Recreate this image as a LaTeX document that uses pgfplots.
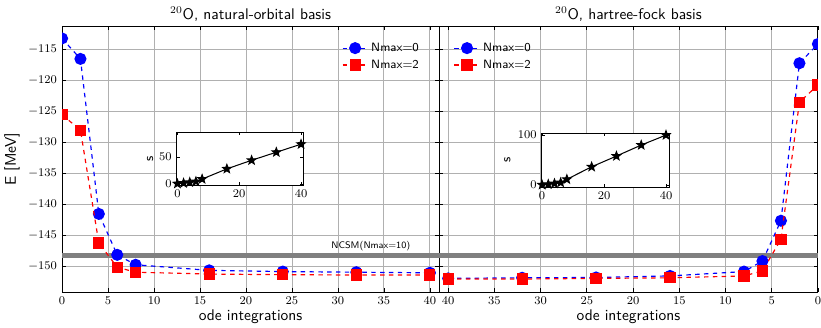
\documentclass[border=0pt]{standalone}
\usepackage{pgfplots}
\pgfplotsset{compat=1.18}
\definecolor{gridc}{RGB}{176,176,176}
\definecolor{ncsm}{RGB}{128,128,128}
\pgfdeclareplotmark{fstar}{%
  \pgfpathmoveto{\pgfpointpolar{90}{\pgfplotmarksize}}%
  \pgfpathlineto{\pgfpointpolar{126}{0.42\pgfplotmarksize}}%
  \pgfpathlineto{\pgfpointpolar{162}{\pgfplotmarksize}}%
  \pgfpathlineto{\pgfpointpolar{198}{0.42\pgfplotmarksize}}%
  \pgfpathlineto{\pgfpointpolar{234}{\pgfplotmarksize}}%
  \pgfpathlineto{\pgfpointpolar{270}{0.42\pgfplotmarksize}}%
  \pgfpathlineto{\pgfpointpolar{306}{\pgfplotmarksize}}%
  \pgfpathlineto{\pgfpointpolar{342}{0.42\pgfplotmarksize}}%
  \pgfpathlineto{\pgfpointpolar{18}{\pgfplotmarksize}}%
  \pgfpathlineto{\pgfpointpolar{54}{0.42\pgfplotmarksize}}%
  \pgfpathclose
  \pgfusepathqfillstroke}
\pgfplotsset{
  mainax/.style={
    scale only axis, anchor=south west, height=180.9pt,
    xmin=0, xmax=41, ymin=-154.2, ymax=-111.3,
    xtick={0,5,...,40}, ytick={-150,-145,...,-115},
    grid=major, major grid style={gridc, line width=0.6pt},
    tick style={black, line width=0.5pt}, major tick length=3pt,
    axis line style={line width=0.6pt},
    tick label style={font=\fontsize{8.5}{10}\selectfont},
    label style={font=\sffamily\fontsize{10.5}{12}\selectfont},
    x label style={at={(axis description cs:0.5,-0.091)}, anchor=center},
    clip marker paths=true,
    legend cell align=left,
    legend style={draw=none, fill=none, anchor=north west, row sep=0.3pt,
      font=\sffamily\fontsize{8.2}{10}\selectfont},
  },
  s0/.style={blue, dashed, line width=0.8pt, mark=*, mark size=3.7pt, mark options={solid}},
  s2/.style={red, dashed, line width=0.8pt, mark=square*, mark size=3.4pt, mark options={solid}},
  insetax/.style={
    scale only axis, anchor=south west,
    axis background/.style={fill=white},
    xtick={0,20,40},
    tick style={black, line width=0.5pt}, major tick length=2pt,
    axis line style={line width=0.6pt},
    tick label style={font=\fontsize{8.5}{10}\selectfont},
    ylabel={s},
    label style={font=\sffamily\fontsize{9}{10}\selectfont},
  },
}
\begin{document}
\begin{tikzpicture}
\path[use as bounding box] (0,0) rectangle (558.3pt,222.4pt);

% left main axis
\begin{axis}[mainax, name=leftax, at={(42.2pt,23.8pt)}, width=256.4pt,
  xlabel={ode integrations}, ylabel={E [MeV]},
  y label style={at={(axis description cs:-0.133,0.5)}, anchor=center},
  legend style={at={(axis description cs:0.73,0.96)}}]
\addplot[ncsm, line width=4pt, forget plot] coordinates {(-1,-148.3) (42,-148.3)};
\addplot[s0] coordinates {(0,-113.3) (2,-116.6) (4,-141.6) (6,-148.2) (8,-149.8) (16,-150.7) (24,-150.9) (32,-151.0) (40,-151.1)};
\addlegendentry{Nmax=0}
\addplot[s2] coordinates {(0,-125.6) (2,-128.1) (4,-146.3) (6,-150.2) (8,-151.0) (16,-151.3) (24,-151.4) (32,-151.45) (40,-151.45)};
\addlegendentry{Nmax=2}
\node[anchor=east, inner sep=0pt, font=\sffamily\fontsize{6.5}{8}\selectfont] at (axis cs:37.9,-146.8) {NCSM(Nmax=10)};
\end{axis}
\node[font=\sffamily\fontsize{10.5}{12}\selectfont, anchor=center] at ([yshift=8.2pt]leftax.north) {$^{20}$O, natural-orbital basis};

% right main axis
\begin{axis}[mainax, name=rightax, at={(298.5pt,23.8pt)}, width=257.7pt, x dir=reverse,
  yticklabels={},
  xlabel={ode integrations},
  legend style={at={(axis description cs:0.027,0.96)}}]
\addplot[ncsm, line width=4pt, forget plot] coordinates {(-1,-148.3) (42,-148.3)};
\addplot[s0] coordinates {(40,-152.0) (32,-151.9) (24,-151.85) (16,-151.6) (8,-150.9) (6,-149.2) (4,-142.7) (2,-117.3) (0,-114.2)};
\addlegendentry{Nmax=0}
\addplot[s2] coordinates {(40,-152.1) (32,-152.1) (24,-152.0) (16,-151.9) (8,-151.6) (6,-150.8) (4,-145.7) (2,-123.6) (0,-120.8)};
\addlegendentry{Nmax=2}
\end{axis}
\node[font=\sffamily\fontsize{10.5}{12}\selectfont, anchor=center] at ([yshift=8.2pt]rightax.north) {$^{20}$O, hartree-fock basis};

% left inset
\begin{axis}[insetax, at={(120.2pt,96.6pt)}, width=85.9pt, height=35.8pt,
  xmin=-0.2, xmax=40.65, ymin=-2, ymax=96, ytick={0,50},
  y label style={at={(axis description cs:-0.21,0.5)}, anchor=center}]
\addplot[black, line width=0.7pt, mark=fstar, mark size=3pt] coordinates {(0,0.5) (2,1.5) (4,3) (6,4.5) (8,9) (16,28) (24,44) (32,59) (40,74)};
\end{axis}

% right inset
\begin{axis}[insetax, at={(368.4pt,95.2pt)}, width=86.6pt, height=36.7pt,
  xmin=-0.1, xmax=41, ymin=-4, ymax=104, ytick={0,100},
  y label style={at={(axis description cs:-0.27,0.5)}, anchor=center}]
\addplot[black, line width=0.7pt, mark=fstar, mark size=3pt] coordinates {(0,0.5) (2,1.5) (4,3) (6,5) (8,11.5) (16,36.5) (24,58) (32,80) (40,100)};
\end{axis}
\end{tikzpicture}
\end{document}
